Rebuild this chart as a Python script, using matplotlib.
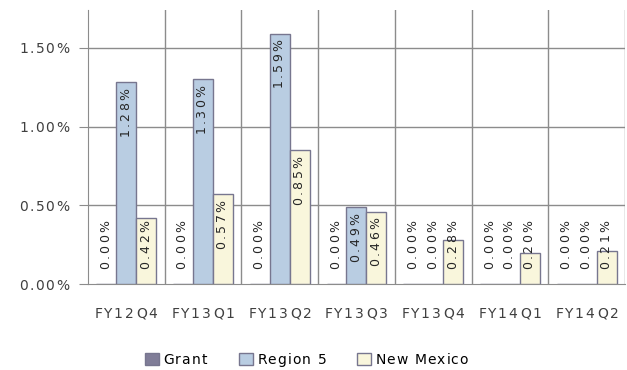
import numpy as np
import matplotlib.pyplot as plt

# data (percent)
quarters = ["FY12 Q4", "FY13 Q1", "FY13 Q2", "FY13 Q3", "FY13 Q4", "FY14 Q1", "FY14 Q2"]
grant = [0.00, 0.00, 0.00, 0.00, 0.00, 0.00, 0.00]
region5 = [1.28, 1.30, 1.59, 0.49, 0.00, 0.00, 0.00]
new_mexico = [0.42, 0.57, 0.85, 0.46, 0.28, 0.20, 0.21]
yticks = [0.0, 0.5, 1.0, 1.5]

series = [("Grant", grant, "#807d98"),
          ("Region 5", region5, "#b9cde2"),
          ("New Mexico", new_mexico, "#f9f6dc")]

plt.rcParams['font.family'] = ['DejaVu Sans']
plt.rcParams['mathtext.fontset'] = 'dejavusans'


def track(s, gap=0.12, word=True):
    # the original text is drawn with wide letter spacing; fake it with mathtext spaces
    sp = r"\hspace{%.2f}" % gap
    # mathtext pads punctuation by 0.2, take that back off after the dot
    esc = {"%": r"\%", " ": r"\ " if word else "", ".": r".\hspace{-0.20}"}
    return r"$\mathregular{" + sp.join(esc.get(c, c) for c in s) + "}$"


fig = plt.figure(figsize=(6.27, 3.70), dpi=100)
ax = fig.add_axes([0.140, 0.232, 0.857, 0.741])

x = np.arange(len(quarters))
w = 0.26
for i, (name, vals, col) in enumerate(series):
    pos = x + (i - 1) * w
    ax.bar(pos, vals, w, color=col, edgecolor="#77768f", linewidth=1.0,
           label=track(name, 0.08), zorder=3)
    for xp, v in zip(pos, vals):
        ax.text(xp, max(v - 0.03, 0.41), track(f"{v:.2f}%", 0.2), rotation=90,
                ha="center", va="top", fontsize=9, color="#262626", zorder=4)

ax.set_xlim(-0.5, len(quarters) - 0.5)
ax.set_ylim(0, 1.74)
ax.set_yticks(yticks)
ax.set_yticklabels([track(f"{t:.2f}%", 0.12) for t in yticks], fontsize=10, color="#404040")
ax.set_xticks(x)
ax.set_xticklabels([track(q, 0.12, word=False) for q in quarters], fontsize=10, color="#404040")

for yv in yticks[1:]:
    ax.axhline(yv, color="#8c8c8c", linewidth=1.0, zorder=1)
for xv in np.arange(-0.5, len(quarters), 1.0)[1:]:
    ax.axvline(xv, color="#8c8c8c", linewidth=1.0, zorder=1)

for s in ["top", "right"]:
    ax.spines[s].set_visible(False)
ax.spines["left"].set_color("#8c8c8c")
ax.spines["bottom"].set_color("#8c8c8c")
ax.tick_params(axis="y", length=6.5, color="#8c8c8c", pad=6)
ax.tick_params(axis="x", length=0, pad=16)

fig.legend(loc="lower center", bbox_to_anchor=(0.49, -0.03), ncol=3, frameon=False,
           fontsize=10, handlelength=1.0, handleheight=1.0, handletextpad=0.3,
           columnspacing=2.2)

fig.savefig("out.png", dpi=100)
